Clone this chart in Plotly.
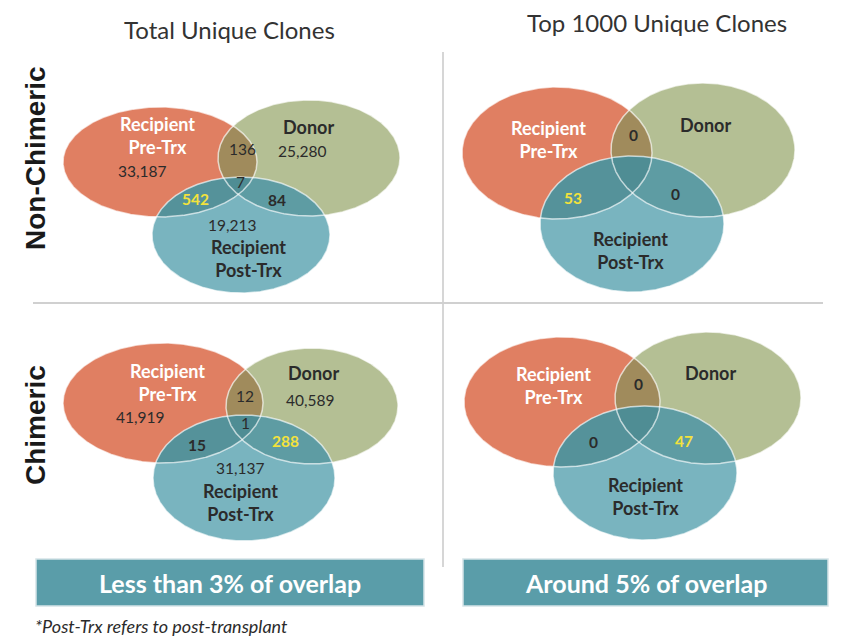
import numpy as np
import plotly.graph_objects as go

# ---------------- data ----------------
col_titles = ["Total Unique Clones", "Top 1000 Unique Clones"]
row_titles = ["Non-Chimeric", "Chimeric"]
set_names = ["Recipient<br>Pre-Trx", "Donor", "Recipient<br>Post-Trx"]
# panels order: NonChim-Total, NonChim-Top1000, Chim-Total, Chim-Top1000
pre_only = [33187, None, 41919, None]
donor_only = [25280, None, 40589, None]
post_only = [19213, None, 31137, None]
pre_donor = [136, 0, 12, 0]
pre_post = [542, 53, 15, 0]
donor_post = [84, 0, 288, 47]
all_three = [7, None, 1, None]
highlight = ["pre_post", "pre_post", "donor_post", "donor_post"]
banner_texts = ["Less than 3% of overlap", "Around 5% of overlap"]
footnote = "*Post-Trx refers to post-transplant"

# ---------------- layout / style ----------------
W, H = 843, 637
BODY = 8  # page body margin; data coords = page pixels
C_RED, C_GREEN, C_BLUE = "#E07F62", "#B4BF94", "#79B4BF"
C_RG, C_RB, C_GB, C_ALL = "#A08B5C", "#55929A", "#5E9CA3", "#4F8D94"
YELLOW = "#F3E23C"
DARK = "#2b2b2b"
FONT = "Lato"
TOP1000 = [False, True, False, True]

# ellipses (cx, cy, rx, ry) per panel: red, green, blue
ellipses = [
    [(160, 162, 97, 55), (309, 158, 91, 58), (241, 235, 89, 58)],
    [(557, 153, 95, 66), (703, 150, 92, 67), (632, 224, 92, 68)],
    [(163, 403, 100, 60), (312, 406, 86, 58), (244, 478, 91, 63)],
    [(562, 402, 98, 65), (708, 398, 93, 66), (645, 473, 92, 67)],
]
# label positions per panel: names (pre, donor, post), and counts
name_pos = [
    [(157, 135), (308, 127), (248, 258)],
    [(548, 139), (705, 125), (630, 250)],
    [(167, 382), (313, 373), (240, 502)],
    [(553, 385), (710, 373), (645, 496)],
]
count_pos = {
    "pre_only": [(142, 171), None, (140, 417), None],
    "donor_only": [(302, 151), None, (310, 400), None],
    "post_only": [(232, 225), None, (240, 468), None],
    "pre_donor": [(242, 149), (633, 135), (245, 396), (638, 384)],
    "pre_post": [(195, 199), (573, 198), (197, 445), (593, 442)],
    "donor_post": [(277, 200), (675, 194), (285, 441), (684, 441)],
    "all_three": [(240, 182), None, (245, 423), None],
}
counts = {
    "pre_only": pre_only, "donor_only": donor_only, "post_only": post_only,
    "pre_donor": pre_donor, "pre_post": pre_post, "donor_post": donor_post,
    "all_three": all_three,
}

N = 720
t = np.linspace(0, 2 * np.pi, N, endpoint=False)


def boundary(e):
    cx, cy, rx, ry = e
    return np.c_[cx + rx * np.cos(t), cy + ry * np.sin(t)]


def inside(pts, e):
    cx, cy, rx, ry = e
    return ((pts[:, 0] - cx) / rx) ** 2 + ((pts[:, 1] - cy) / ry) ** 2 <= 1.0


def intersection(es):
    pts = []
    for i, e in enumerate(es):
        b = boundary(e)
        mask = np.ones(len(b), bool)
        for j, o in enumerate(es):
            if j != i:
                mask &= inside(b, o)
        pts.append(b[mask])
    p = np.vstack(pts)
    c = p.mean(axis=0)
    ang = np.arctan2(p[:, 1] - c[1], p[:, 0] - c[0])
    p = p[np.argsort(ang)]
    return np.vstack([p, p[:1]])


fig = go.Figure()


def add_poly(p, color):
    fig.add_trace(go.Scatter(x=p[:, 0], y=p[:, 1], mode="lines", fill="toself",
                             fillcolor=color, line=dict(width=0), hoverinfo="skip",
                             showlegend=False))


for k, (er, eg, eb) in enumerate(ellipses):
    for e, c in [(er, C_RED), (eg, C_GREEN), (eb, C_BLUE)]:
        b = boundary(e)
        add_poly(np.vstack([b, b[:1]]), c)
    add_poly(intersection([er, eg]), C_RG)
    add_poly(intersection([er, eb]), C_RB)
    add_poly(intersection([eg, eb]), C_GB)
    add_poly(intersection([er, eg, eb]), C_ALL)
    for e in (er, eg, eb):
        b = boundary(e)
        b = np.vstack([b, b[:1]])
        fig.add_trace(go.Scatter(x=b[:, 0], y=b[:, 1], mode="lines",
                                 line=dict(color="rgba(255,255,255,0.65)", width=1.5),
                                 hoverinfo="skip", showlegend=False))

ann = []
for k in range(4):
    for i, name in enumerate(set_names):
        x, y = name_pos[k][i]
        ann.append(dict(x=x, y=y, text="<b>" + name + "</b>", showarrow=False,
                        font=dict(family=FONT, size=18,
                                  color="white" if i == 0 else DARK),
                        xanchor="center", yanchor="middle"))
    for key, vals in counts.items():
        v = vals[k]
        if v is None:
            continue
        x, y = count_pos[key][k]
        hl = highlight[k] == key
        bold = key in ("pre_post", "donor_post") or (key == "pre_donor" and TOP1000[k])
        txt = f"{v:,}"
        if bold:
            txt = "<b>" + txt + "</b>"
        ann.append(dict(x=x, y=y, text=txt, showarrow=False,
                        font=dict(family=FONT, size=15.5,
                                  color=YELLOW if hl else DARK),
                        xanchor="center", yanchor="middle"))

# column titles
for x, y, s in [(229, 29, col_titles[0]), (657, 22, col_titles[1])]:
    ann.append(dict(x=x, y=y, text=s, showarrow=False,
                    font=dict(family=FONT, size=24, color="#333333"),
                    xanchor="center", yanchor="middle"))
# row titles
for y, s in [(158, row_titles[0]), (425, row_titles[1])]:
    ann.append(dict(x=35, y=y, text="<b>" + s + "</b>", textangle=-90, showarrow=False,
                    font=dict(family="Liberation Sans", size=28, color="#1a1a1a"),
                    xanchor="center", yanchor="middle"))
# banners
banners = [(36, 424, banner_texts[0]), (463, 828, banner_texts[1])]
shapes = []
for x0, x1, s in banners:
    shapes.append(dict(type="rect", xref="x", yref="y", x0=x0, x1=x1, y0=559, y1=606,
                       fillcolor="#5A9DA9", line=dict(color="#d5e4e7", width=1.5),
                       layer="below"))
    ann.append(dict(x=(x0 + x1) / 2, y=583, text="<b>" + s + "</b>", showarrow=False,
                    font=dict(family=FONT, size=25, color="white"),
                    xanchor="center", yanchor="middle"))
ann.append(dict(x=33, y=626, text="<i>" + footnote + "</i>", showarrow=False,
                font=dict(family=FONT, size=18, color=DARK),
                xanchor="left", yanchor="middle"))

# divider lines
shapes.append(dict(type="line", xref="x", yref="y", x0=443, x1=443, y0=52, y1=567,
                   line=dict(color="#c8c8c8", width=1.5), layer="below"))
shapes.append(dict(type="line", xref="x", yref="y", x0=33, x1=823, y0=303, y1=303,
                   line=dict(color="#d0d0d0", width=2), layer="below"))

fig.update_layout(
    width=W - BODY, height=H - BODY, margin=dict(l=0, r=0, t=0, b=0),
    paper_bgcolor="white", plot_bgcolor="white",
    xaxis=dict(range=[BODY, W], visible=False, fixedrange=True),
    yaxis=dict(range=[H, BODY], visible=False, fixedrange=True),
    annotations=ann, shapes=shapes, showlegend=False,
)
fig.write_html("out.html")
